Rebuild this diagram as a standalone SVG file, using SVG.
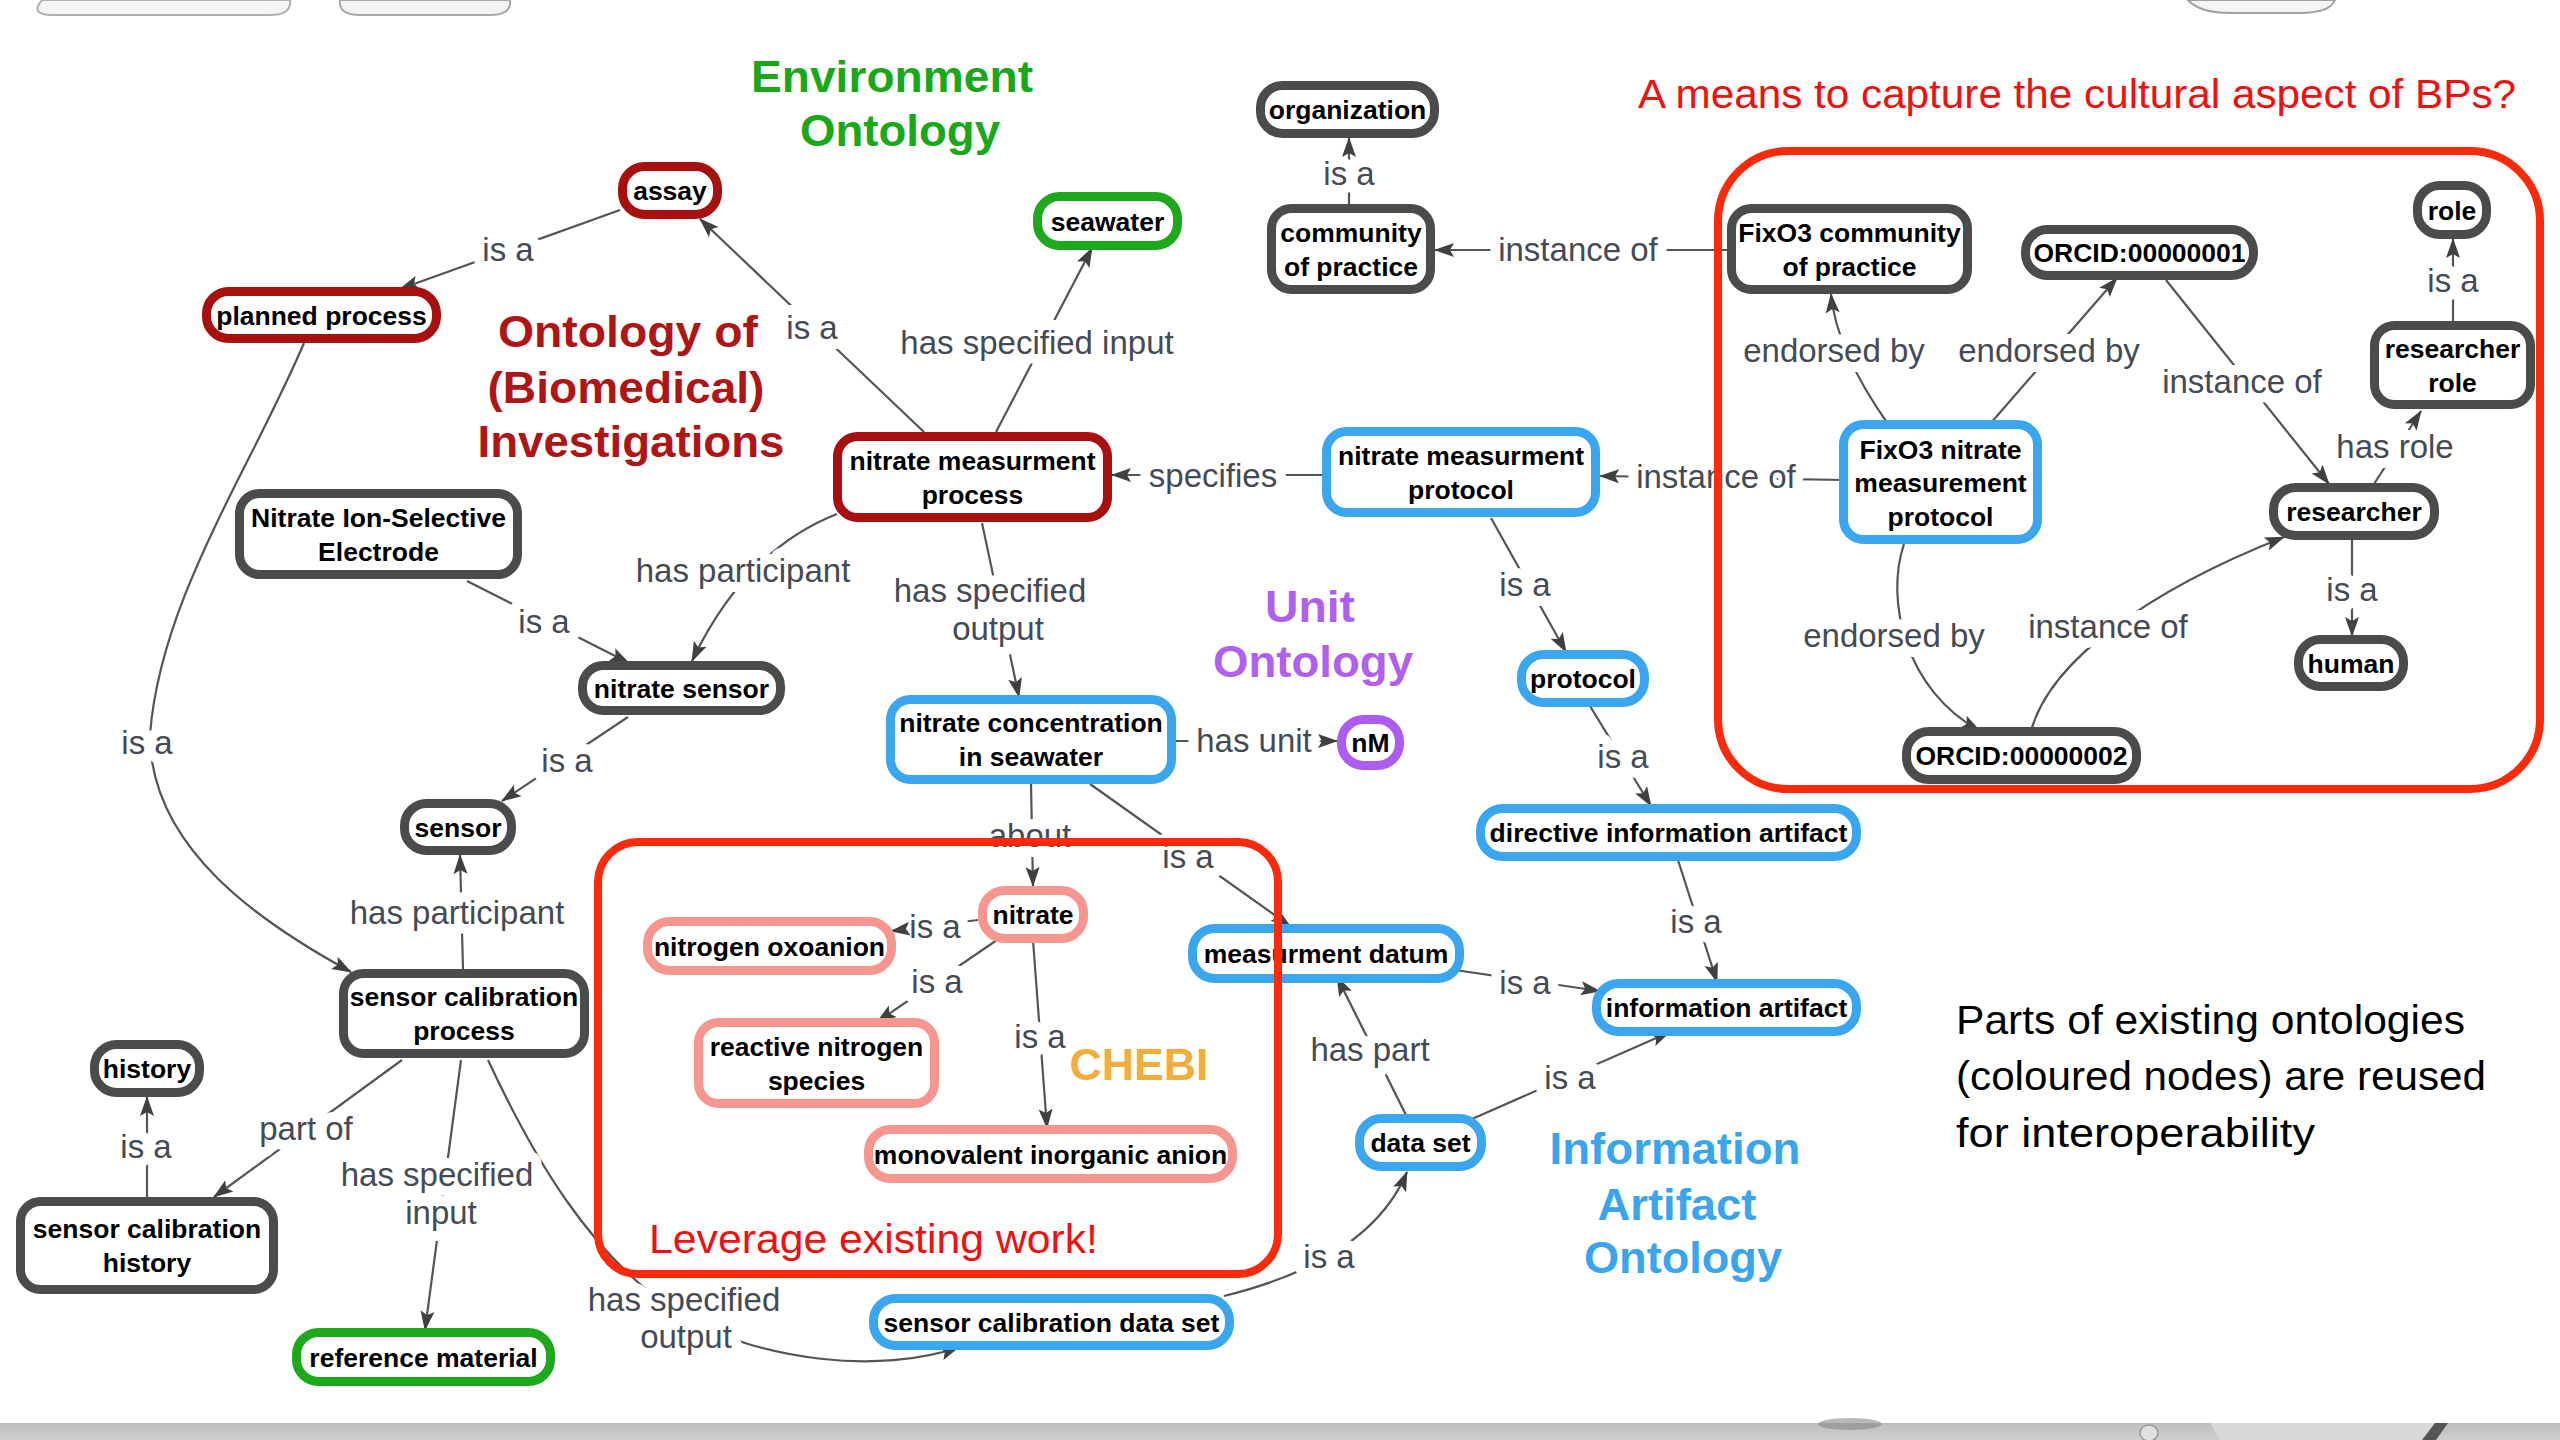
<svg xmlns="http://www.w3.org/2000/svg" xmlns:xlink="http://www.w3.org/1999/xlink" width="2560" height="1440" viewBox="0 0 2560 1440">
<defs>
<marker id="arr" markerUnits="userSpaceOnUse" markerWidth="22" markerHeight="16" refX="19" refY="8" orient="auto">
<path d="M0,1 L20,8 L0,15 L4,8 z" fill="#404040" stroke="none"/>
</marker>
<linearGradient id="band" x1="0" y1="0" x2="0" y2="1">
<stop offset="0" stop-color="#bdbdbd"/><stop offset="1" stop-color="#d0d0d0"/>
</linearGradient>
<path id="c1" d="M620 210 L400 289"/>
<path id="c2" d="M924 432 L700 219"/>
<path id="c3" d="M996 432 L1092 248"/>
<path id="c4" d="M1326 475 L1112 475"/>
<path id="c5" d="M837 514 Q745 550 692 661"/>
<path id="c6" d="M467 581 L629 663"/>
<path id="c7" d="M982 523 L1019 697"/>
<path id="c8" d="M628 717 L502 801"/>
<path id="c9" d="M463 969 L460 855"/>
<path id="c10" d="M304 343 C250 470 160 600 150 735 C150 850 265 925 351 972"/>
<path id="c11" d="M402 1060 L214 1197"/>
<path id="c12" d="M147 1198 L147 1097"/>
<path id="c13" d="M461 1060 L425 1330"/>
<path id="c14" d="M488 1060 C530 1150 590 1260 686 1318 C760 1360 880 1375 959 1347"/>
<path id="c15" d="M1176 741 L1337 741"/>
<path id="c16" d="M1031 784 L1033 886"/>
<path id="c17" d="M1090 784 L1290 926"/>
<path id="c18" d="M978 920 L891 931"/>
<path id="c19" d="M997 940 L877 1022"/>
<path id="c20" d="M1033 940 L1047 1128"/>
<path id="c21" d="M1407 1117 L1337 977"/>
<path id="c22" d="M1455 970 L1600 991"/>
<path id="c23" d="M1472 1119 L1670 1032"/>
<path id="c24" d="M1224 1296 Q1370 1260 1407 1172"/>
<path id="c25" d="M1678 860 L1717 982"/>
<path id="c26" d="M1590 706 L1651 806"/>
<path id="c27" d="M1491 518 L1566 652"/>
<path id="c28" d="M1843 480 L1600 476"/>
<path id="c29" d="M1731 250 L1435 250"/>
<path id="c30" d="M1349 208 L1349 138"/>
<path id="c31" d="M1888 424 Q1836 350 1831 294"/>
<path id="c32" d="M1990 424 L2117 278"/>
<path id="c33" d="M2166 280 L2329 484"/>
<path id="c34" d="M2374 484 L2421 411"/>
<path id="c35" d="M2453 323 L2453 239"/>
<path id="c36" d="M2352 540 L2352 636"/>
<path id="c37" d="M1904 544 C1885 600 1905 690 1980 731"/>
<path id="c38" d="M2031 731 C2050 660 2150 590 2284 537"/>
</defs>
<style>
.n rect{fill:#fff;stroke-width:9}
.obi rect{stroke:#a80f0f}
.env rect{stroke:#1caa1c}
.gry rect{stroke:#4b4b4b}
.iao rect{stroke:#3aa6ef}
.uo rect{stroke:#ad5cf0}
.che rect{stroke:#f7958f}
.n text{font-family:"Liberation Sans",Arial,sans-serif;font-weight:bold;font-size:26.5px;text-anchor:middle;fill:#000}
.lines{fill:none;stroke:#555;stroke-width:2.2}
.heads{fill:none;stroke:none;marker-end:url(#arr)}
.l{font-family:"Liberation Sans",Arial,sans-serif;font-size:33px;fill:#454a54;text-anchor:middle;stroke:#fff;stroke-width:20;stroke-linejoin:round;paint-order:stroke}
.t{font-family:"Liberation Sans",Arial,sans-serif;font-weight:bold;font-size:44px;text-anchor:middle}
.a{font-family:"Liberation Sans",Arial,sans-serif;font-size:40px}
.fr{fill:none;stroke:#fa2a0a;stroke-width:8}
</style>
<rect width="2560" height="1440" fill="#fff"/>
<g id="decor">
<path d="M42 0 Q30 14 50 15 L270 15 Q292 15 290 0 Z" fill="#f5f5f5" stroke="#b0b0b0" stroke-width="2"/>
<path d="M340 0 Q338 15 360 15 L490 15 Q512 15 510 0 Z" fill="#f3f3f3" stroke="#a8a8a8" stroke-width="2"/>
<path d="M2188 0 Q2200 13 2230 13 L2300 13 Q2330 13 2335 0 Z" fill="#f4f4f4" stroke="#a0a0a0" stroke-width="2"/>
<rect x="0" y="1423" width="2560" height="17" fill="url(#band)"/>
<ellipse cx="1850" cy="1424" rx="32" ry="6" fill="#888" opacity="0.6"/>
<ellipse cx="2149" cy="1433" rx="9" ry="8" fill="#e0e0e0" stroke="#999" stroke-width="1.5"/>
<path d="M2210 1423 L2220 1440 L2430 1440 L2448 1423 Z" fill="#d8d8d8"/>
<path d="M2435 1423 L2448 1423 L2436 1440 L2422 1440 Z" fill="#555"/>
</g>
<g id="titles">
<text class="t" fill="#18a818" x="892" y="92" textLength="282" lengthAdjust="spacingAndGlyphs">Environment</text>
<text class="t" fill="#18a818" x="900" y="146" textLength="200" lengthAdjust="spacingAndGlyphs">Ontology</text>
<text class="t" fill="#b01515" x="628" y="347" textLength="260" lengthAdjust="spacingAndGlyphs">Ontology of</text>
<text class="t" fill="#b01515" x="626" y="403" textLength="277" lengthAdjust="spacingAndGlyphs">(Biomedical)</text>
<text class="t" fill="#b01515" x="631" y="457" textLength="307" lengthAdjust="spacingAndGlyphs">Investigations</text>
<text class="t" fill="#b05ff0" x="1310" y="622" textLength="90" lengthAdjust="spacingAndGlyphs">Unit</text>
<text class="t" fill="#b05ff0" x="1313" y="677" textLength="200" lengthAdjust="spacingAndGlyphs">Ontology</text>
<text class="t" fill="#f2ad3d" x="1139" y="1080" textLength="139" lengthAdjust="spacingAndGlyphs">CHEBI</text>
<text class="t" fill="#3aa5ef" x="1675" y="1164" textLength="251" lengthAdjust="spacingAndGlyphs">Information</text>
<text class="t" fill="#3aa5ef" x="1677" y="1220" textLength="159" lengthAdjust="spacingAndGlyphs">Artifact</text>
<text class="t" fill="#3aa5ef" x="1683" y="1273" textLength="198" lengthAdjust="spacingAndGlyphs">Ontology</text>
<text class="a" fill="#f01010" x="1638" y="108" textLength="878" lengthAdjust="spacingAndGlyphs">A means to capture the cultural aspect of BPs?</text>
<text class="a" fill="#f01010" x="649" y="1253" textLength="449" lengthAdjust="spacingAndGlyphs">Leverage existing work!</text>
<text class="a" fill="#000" x="1956" y="1034" textLength="509" lengthAdjust="spacingAndGlyphs">Parts of existing ontologies</text>
<text class="a" fill="#000" x="1956" y="1090" textLength="530" lengthAdjust="spacingAndGlyphs">(coloured nodes) are reused</text>
<text class="a" fill="#000" x="1956" y="1147" textLength="359" lengthAdjust="spacingAndGlyphs">for interoperability</text>
</g>
<g id="connectors">
<g class="lines">
<use xlink:href="#c1"/><use xlink:href="#c2"/><use xlink:href="#c3"/><use xlink:href="#c4"/><use xlink:href="#c5"/>
<use xlink:href="#c6"/><use xlink:href="#c7"/><use xlink:href="#c8"/><use xlink:href="#c9"/><use xlink:href="#c10"/>
<use xlink:href="#c11"/><use xlink:href="#c12"/><use xlink:href="#c13"/><use xlink:href="#c14"/><use xlink:href="#c15"/>
<use xlink:href="#c16"/><use xlink:href="#c17"/><use xlink:href="#c18"/><use xlink:href="#c19"/><use xlink:href="#c20"/>
<use xlink:href="#c21"/><use xlink:href="#c22"/><use xlink:href="#c23"/><use xlink:href="#c24"/><use xlink:href="#c25"/>
<use xlink:href="#c26"/><use xlink:href="#c27"/><use xlink:href="#c28"/><use xlink:href="#c29"/><use xlink:href="#c30"/>
<use xlink:href="#c31"/><use xlink:href="#c32"/><use xlink:href="#c33"/><use xlink:href="#c34"/><use xlink:href="#c35"/>
<use xlink:href="#c36"/><use xlink:href="#c37"/><use xlink:href="#c38"/>
</g>
<g id="labels">
<text class="l" x="508" y="261">is a</text>
<text class="l" x="812" y="339">is a</text>
<text class="l" x="1037" y="354">has specified input</text>
<text class="l" x="1213" y="487">specifies</text>
<text class="l" x="743" y="582">has participant</text>
<text class="l" x="544" y="633">is a</text>
<text class="l" x="990" y="602">has specified</text>
<text class="l" x="998" y="640">output</text>
<text class="l" x="567" y="772">is a</text>
<text class="l" x="457" y="924">has participant</text>
<text class="l" x="147" y="754">is a</text>
<text class="l" x="306" y="1140">part of</text>
<text class="l" x="146" y="1158">is a</text>
<text class="l" x="437" y="1186">has specified</text>
<text class="l" x="441" y="1224">input</text>
<text class="l" x="684" y="1311">has specified</text>
<text class="l" x="686" y="1348">output</text>
<text class="l" x="1254" y="752">has unit</text>
<text class="l" x="1030" y="847">about</text>
<text class="l" x="1188" y="868">is a</text>
<text class="l" x="935" y="938">is a</text>
<text class="l" x="937" y="993">is a</text>
<text class="l" x="1040" y="1048">is a</text>
<text class="l" x="1370" y="1061">has part</text>
<text class="l" x="1525" y="994">is a</text>
<text class="l" x="1570" y="1089">is a</text>
<text class="l" x="1329" y="1268">is a</text>
<text class="l" x="1696" y="933">is a</text>
<text class="l" x="1623" y="768">is a</text>
<text class="l" x="1525" y="596">is a</text>
<text class="l" x="1716" y="488">instance of</text>
<text class="l" x="1578" y="261">instance of</text>
<text class="l" x="1349" y="185">is a</text>
<text class="l" x="1834" y="362">endorsed by</text>
<text class="l" x="2049" y="362">endorsed by</text>
<text class="l" x="2242" y="393">instance of</text>
<text class="l" x="2395" y="458">has role</text>
<text class="l" x="2453" y="292">is a</text>
<text class="l" x="2352" y="601">is a</text>
<text class="l" x="1894" y="647">endorsed by</text>
<text class="l" x="2108" y="638">instance of</text>
</g>
<g class="heads">
<use xlink:href="#c1"/><use xlink:href="#c2"/><use xlink:href="#c3"/><use xlink:href="#c4"/><use xlink:href="#c5"/>
<use xlink:href="#c6"/><use xlink:href="#c7"/><use xlink:href="#c8"/><use xlink:href="#c9"/><use xlink:href="#c10"/>
<use xlink:href="#c11"/><use xlink:href="#c12"/><use xlink:href="#c13"/><use xlink:href="#c14"/><use xlink:href="#c15"/>
<use xlink:href="#c16"/><use xlink:href="#c17"/><use xlink:href="#c18"/><use xlink:href="#c19"/><use xlink:href="#c20"/>
<use xlink:href="#c21"/><use xlink:href="#c22"/><use xlink:href="#c23"/><use xlink:href="#c24"/><use xlink:href="#c25"/>
<use xlink:href="#c26"/><use xlink:href="#c27"/><use xlink:href="#c28"/><use xlink:href="#c29"/><use xlink:href="#c30"/>
<use xlink:href="#c31"/><use xlink:href="#c32"/><use xlink:href="#c33"/><use xlink:href="#c34"/><use xlink:href="#c35"/>
<use xlink:href="#c36"/><use xlink:href="#c37"/><use xlink:href="#c38"/>
</g>
</g>
<g id="n-assay" class="n obi"><rect x="622.5" y="166.5" width="95" height="48" rx="22"/><text x="670" y="200">assay</text></g>
<g id="n-planned-process" class="n obi"><rect x="206.5" y="291.5" width="230" height="47" rx="22"/><text x="321.5" y="324.5">planned process</text></g>
<g id="n-seawater" class="n env"><rect x="1037.5" y="196.5" width="140" height="49" rx="22"/><text x="1107.5" y="230.5">seawater</text></g>
<g id="n-nmp" class="n obi"><rect x="837.5" y="436.5" width="270" height="81" rx="20"/><text x="972.5" y="469.5">nitrate measurment</text><text x="972.5" y="503.5">process</text></g>
<g id="n-ise" class="n gry"><rect x="239.5" y="493.5" width="278" height="81" rx="20"/><text x="378.5" y="526.5">Nitrate Ion-Selective</text><text x="378.5" y="560.5">Electrode</text></g>
<g id="n-nitrate-sensor" class="n gry"><rect x="582.5" y="665.5" width="198" height="45" rx="21"/><text x="681.5" y="697.5">nitrate sensor</text></g>
<g id="n-sensor" class="n gry"><rect x="404.5" y="803.5" width="107" height="47" rx="22"/><text x="458" y="836.5">sensor</text></g>
<g id="n-nitrate-conc" class="n iao"><rect x="890.5" y="699.5" width="281" height="80" rx="20"/><text x="1031" y="732">nitrate concentration</text><text x="1031" y="766">in seawater</text></g>
<g id="n-nM" class="n uo"><rect x="1341.5" y="719.5" width="58" height="46" rx="22"/><text x="1370.5" y="752">nM</text></g>
<g id="n-organization" class="n gry"><rect x="1260.5" y="85.5" width="174" height="48" rx="22"/><text x="1347.5" y="119">organization</text></g>
<g id="n-community" class="n gry"><rect x="1271.5" y="208.5" width="159" height="81" rx="20"/><text x="1351" y="241.5">community</text><text x="1351" y="275.5">of practice</text></g>
<g id="n-fixo3-community" class="n gry"><rect x="1731.5" y="208.5" width="236" height="81" rx="20"/><text x="1849.5" y="241.5">FixO3 community</text><text x="1849.5" y="275.5">of practice</text></g>
<g id="n-orcid1" class="n gry"><rect x="2025.5" y="229.5" width="228" height="46" rx="22"/><text x="2139.5" y="262">ORCID:00000001</text></g>
<g id="n-role" class="n gry"><rect x="2417.5" y="185.5" width="69" height="49" rx="22"/><text x="2452" y="219.5">role</text></g>
<g id="n-researcher-role" class="n gry"><rect x="2374.5" y="325.5" width="156" height="79" rx="20"/><text x="2452.5" y="357.5">researcher</text><text x="2452.5" y="391.5">role</text></g>
<g id="n-nm-protocol" class="n iao"><rect x="1326.5" y="431.5" width="269" height="81" rx="20"/><text x="1461" y="464.5">nitrate measurment</text><text x="1461" y="498.5">protocol</text></g>
<g id="n-fixo3-protocol" class="n iao"><rect x="1843.5" y="424.5" width="194" height="115" rx="20"/><text x="1940.5" y="458.5">FixO3 nitrate</text><text x="1940.5" y="492">measurement</text><text x="1940.5" y="525.5">protocol</text></g>
<g id="n-researcher" class="n gry"><rect x="2273.5" y="487.5" width="161" height="48" rx="22"/><text x="2354" y="521">researcher</text></g>
<g id="n-human" class="n gry"><rect x="2298.5" y="639.5" width="105" height="47" rx="22"/><text x="2351" y="672.5">human</text></g>
<g id="n-protocol" class="n iao"><rect x="1521.5" y="654.5" width="123" height="48" rx="22"/><text x="1583" y="688">protocol</text></g>
<g id="n-orcid2" class="n gry"><rect x="1906.5" y="731.5" width="230" height="48" rx="22"/><text x="2021.5" y="765">ORCID:00000002</text></g>
<g id="n-directive" class="n iao"><rect x="1480.5" y="808.5" width="376" height="48" rx="22"/><text x="1668.5" y="842">directive information artifact</text></g>
<g id="n-info-artifact" class="n iao"><rect x="1596.5" y="983.5" width="260" height="48" rx="22"/><text x="1726.5" y="1017">information artifact</text></g>
<g id="n-meas-datum" class="n iao"><rect x="1192.5" y="928.5" width="267" height="50" rx="22"/><text x="1326" y="963">measurment datum</text></g>
<g id="n-data-set" class="n iao"><rect x="1359.5" y="1118.5" width="122" height="48" rx="22"/><text x="1420.5" y="1152">data set</text></g>
<g id="n-scds" class="n iao"><rect x="873.5" y="1298.5" width="356" height="47" rx="22"/><text x="1051.5" y="1331.5">sensor calibration data set</text></g>
<g id="n-nitrate" class="n che"><rect x="982.5" y="890.5" width="101" height="48" rx="22"/><text x="1033" y="924">nitrate</text></g>
<g id="n-oxoanion" class="n che"><rect x="647.5" y="921.5" width="244" height="49" rx="22"/><text x="769.5" y="955.5">nitrogen oxoanion</text></g>
<g id="n-rns" class="n che"><rect x="698.5" y="1022.5" width="236" height="81" rx="20"/><text x="816.5" y="1055.5">reactive nitrogen</text><text x="816.5" y="1089.5">species</text></g>
<g id="n-anion" class="n che"><rect x="868.5" y="1129.5" width="364" height="49" rx="22"/><text x="1050.5" y="1163.5">monovalent inorganic anion</text></g>
<g id="n-scp" class="n gry"><rect x="343.5" y="973.5" width="241" height="80" rx="20"/><text x="464" y="1006">sensor calibration</text><text x="464" y="1040">process</text></g>
<g id="n-history" class="n gry"><rect x="94.5" y="1044.5" width="105" height="48" rx="22"/><text x="147" y="1078">history</text></g>
<g id="n-sch" class="n gry"><rect x="20.5" y="1201.5" width="253" height="88" rx="20"/><text x="147" y="1238">sensor calibration</text><text x="147" y="1272">history</text></g>
<g id="n-refmat" class="n env"><rect x="296.5" y="1332.5" width="254" height="49" rx="22"/><text x="423.5" y="1366.5">reference material</text></g>
<g id="frames">
<rect class="fr" x="1718" y="151" width="822" height="638" rx="70"/>
<rect class="fr" x="598" y="842" width="680" height="432" rx="40"/>
</g>
</svg>
